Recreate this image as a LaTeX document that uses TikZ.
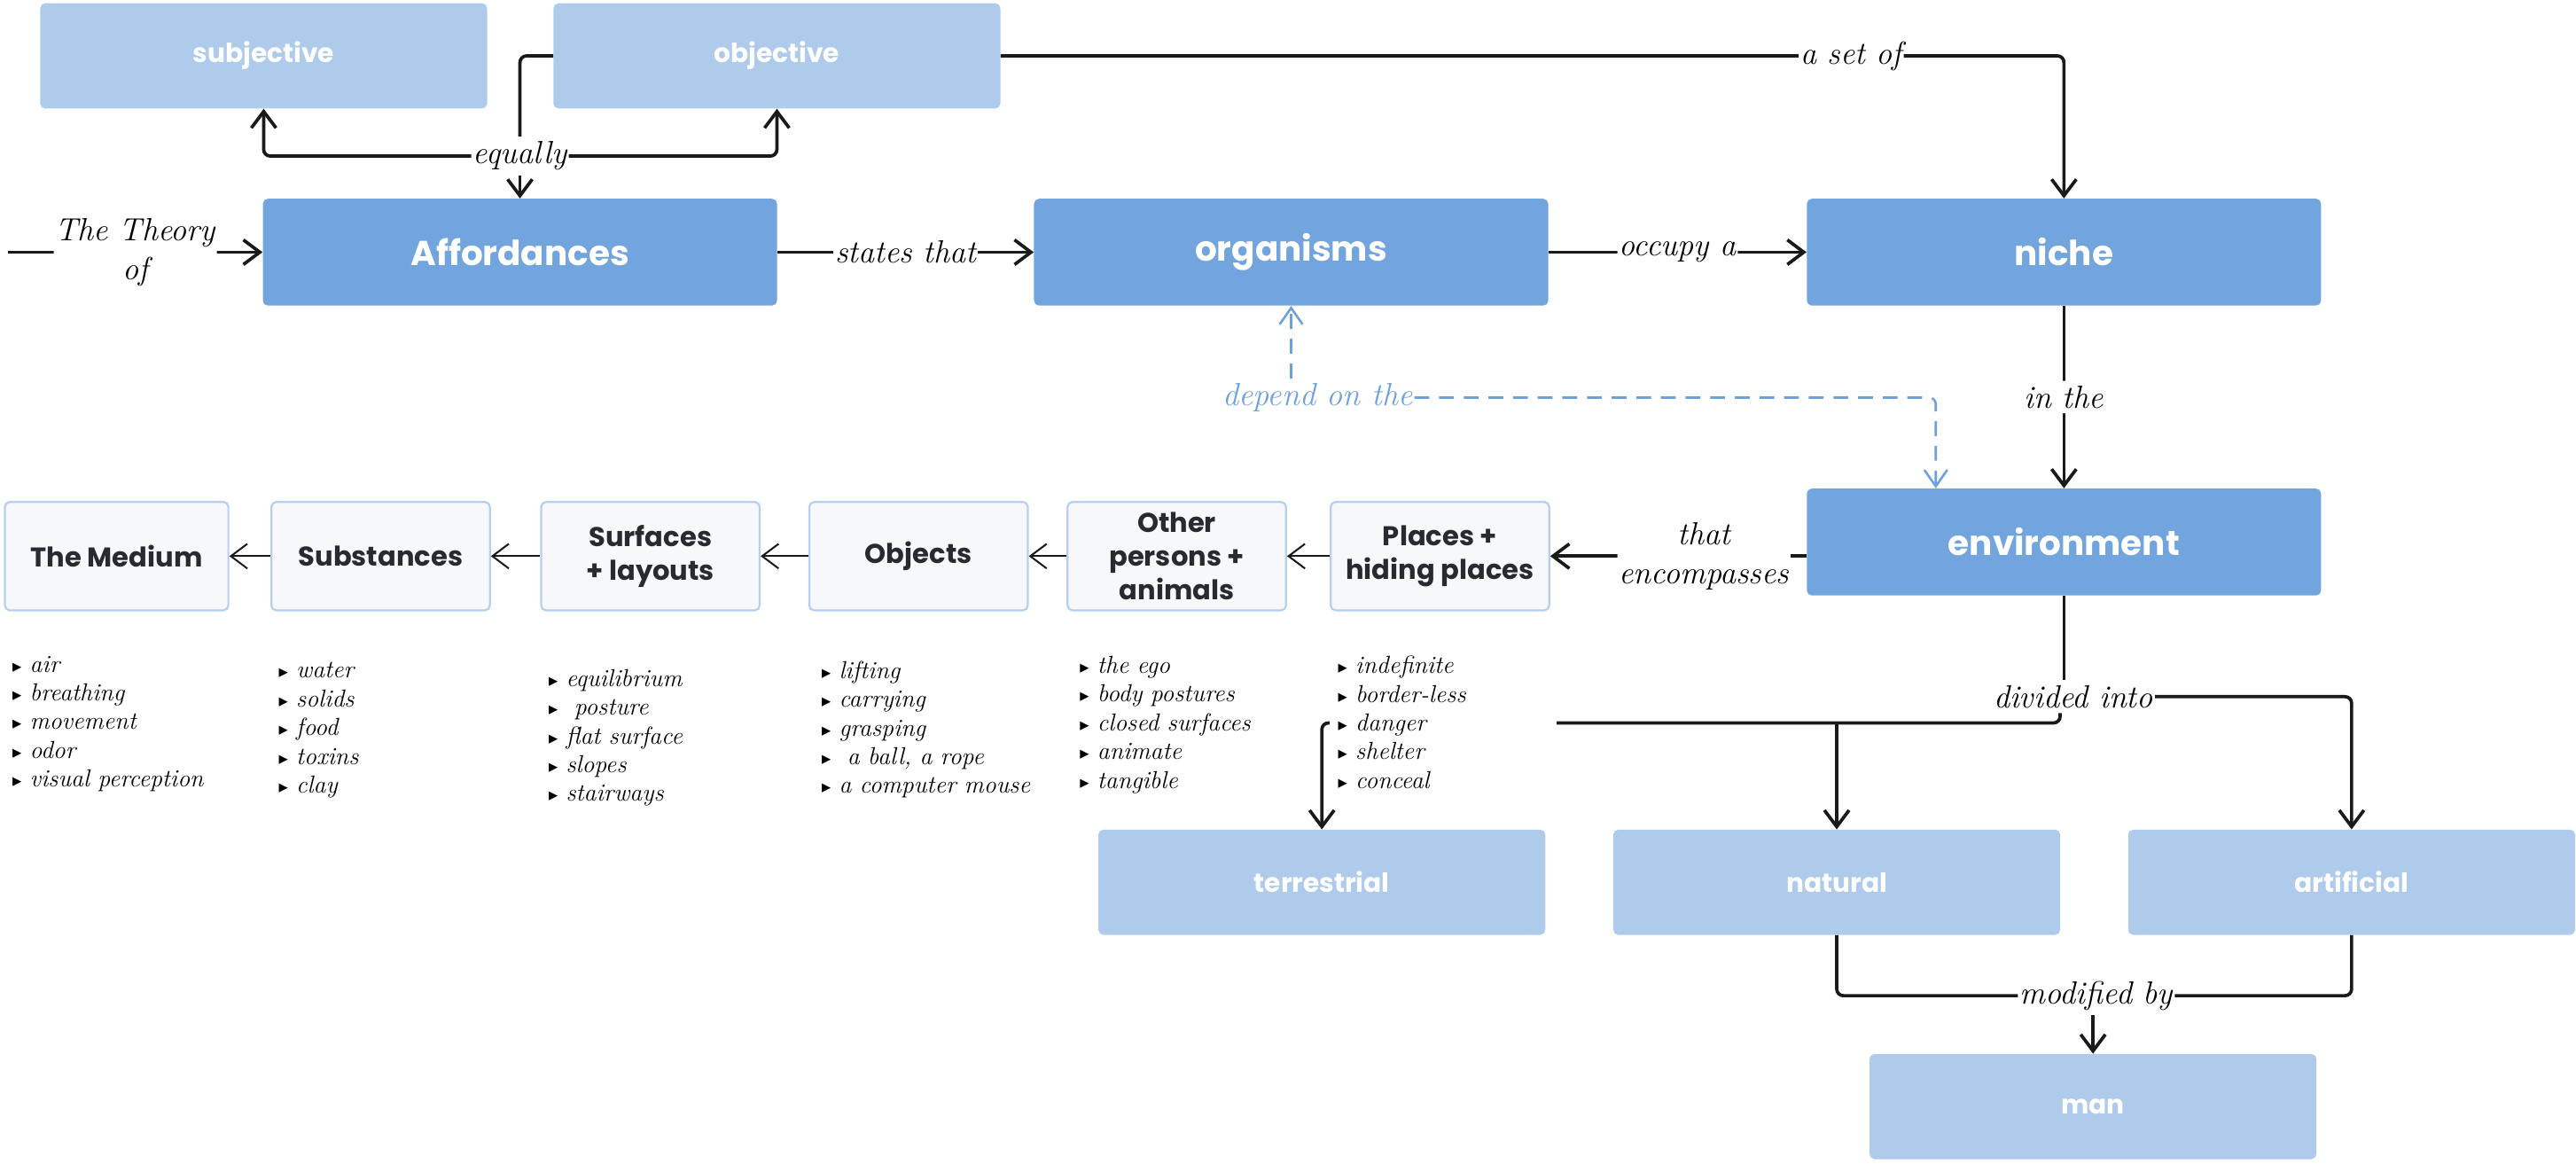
\documentclass[tikz,border=0pt]{standalone}
\usepackage{fontspec}
\setsansfont{Poppins}
\newfontfamily\symfont{DejaVu Sans}
\usepackage{tikz}
\usetikzlibrary{arrows.meta,positioning}
\definecolor{boxblue}{RGB}{114,165,221}
\definecolor{paleblue}{RGB}{175,203,236}
\definecolor{softgray}{RGB}{247,248,250}
\definecolor{edgeblue}{RGB}{182,207,238}
\definecolor{darktext}{RGB}{40,42,48}
\definecolor{ink}{RGB}{26,26,26}
\definecolor{dashblue}{RGB}{110,160,220}
\newcommand\itemmark{{\symfont\fontsize{11}{11}\selectfont ▸}\ }
\tikzset{
  mainbox/.style={
    rounded corners=3pt,
    fill=boxblue,
    text=white,
    align=center,
    minimum width=313pt,
    minimum height=65pt,
    font=\sffamily\bfseries\fontsize{21}{25}\selectfont
  },
  subbox/.style={mainbox, fill=paleblue, minimum width=272pt, minimum height=64pt,
    font=\sffamily\bfseries\fontsize{16}{20}\selectfont},
  stagebox/.style={
    rounded corners=3pt,
    fill=softgray,
    draw=edgeblue,
    line width=1.2pt,
    text=darktext,
    align=center,
    inner sep=2pt,
    minimum width=133pt,
    minimum height=66pt,
    font=\sffamily\bfseries\fontsize{16.5}{20.5}\selectfont
  },
  itemlist/.style={fill=white, text width=128pt, inner xsep=5pt, inner ysep=3pt,
    align=left, font=\itshape\fontsize{15}{17.5}\selectfont},
  linklabel/.style={fill=white, inner xsep=1pt, inner ysep=3pt, align=center,
    font=\itshape\fontsize{19.5}{24}\selectfont},
  link/.style={line width=2pt, draw=ink, rounded corners=4pt},
  arrow/.style={link, -{Straight Barb[length=10pt, width=15pt]}},
  thinarrow/.style={arrow, line width=1.1pt},
  dasharrow/.style={line width=1.4pt, draw=dashblue, dash pattern=on 9pt off 6pt,
    rounded corners=4pt, -{Straight Barb[length=10pt, width=14pt]}}
}
\begin{document}
\begin{tikzpicture}[x=1pt, y=-1pt]
  \useasboundingbox (0,0) rectangle (1568,708);
  \node[mainbox] (affordances) at (316.5,153.5) {Affordances};
  \node[mainbox, right=156pt of affordances] (organisms) {organisms};
  \node[mainbox, right=157pt of organisms] (niche) {niche};
  \node[mainbox, below=111pt of niche] (environment) {environment};
  \node[subbox] (subjective) at (160.5,34) {subjective};
  \node[subbox, right=40pt of subjective] (objective) {objective};
  \node[subbox] (natural) at (1118,537) {natural};
  \node[subbox, left=41pt of natural] (terrestrial) {terrestrial};
  \node[subbox, right=41pt of natural] (artificial) {artificial};
  \node[subbox] (man) at (1274,673.5) {man};

  \node[stagebox] (places) at (876.5,338.5) {Places +\\hiding places};
  \node[stagebox, left=26pt of places] (others) {Other\\persons +\\animals};
  \node[stagebox, left=23pt of others] (objects) {Objects};
  \node[stagebox, left=29pt of objects] (surfaces) {Surfaces\\+ layouts};
  \node[stagebox, left=30pt of surfaces] (substances) {Substances};
  \node[stagebox, minimum width=136pt, left=25pt of substances] (medium) {The Medium};

  \node[linklabel] (equally) at (316.5,95) {equally};
  \node[linklabel, text=dashblue] (depend) at (802,242) {depend on the};
  \node[linklabel] (divided) at (1262,424) {divided into};
  \node[linklabel] (modified) at (1276,606) {modified by};
  \coordinate (entry) at (5,153.5);
  \coordinate (fork) at (1254,440);

  \draw[link] (objective.west) -| (equally.north);
  \draw[arrow] (equally.south) -- (affordances.north);
  \draw[arrow] (equally.west) -| (subjective.south);
  \draw[arrow] (equally.east) -| (objective.south);
  \draw[arrow] (objective.east) -| node[linklabel, pos=0.4] {a set of} (niche.north);
  \draw[arrow] (entry) -- node[linklabel] {The Theory\\of} (affordances.west);
  \draw[arrow] (affordances) -- node[linklabel] {states that} (organisms);
  \draw[arrow] (organisms) -- node[linklabel] {occupy a} (niche);
  \draw[arrow] (niche) -- node[linklabel] {in the} (environment);
  \draw[dasharrow] (depend.north -| organisms.south) -- (organisms.south);
  \draw[dasharrow] (depend.east) -| ([xshift=-78pt]environment.north);
  \draw[arrow] (environment.west |- places.east) -- node[linklabel, pos=0.4] {that\\encompasses} (places.east);
  \draw[thinarrow] (places) -- (others);
  \draw[thinarrow] (others) -- (objects);
  \draw[thinarrow] (objects) -- (surfaces);
  \draw[thinarrow] (surfaces) -- (substances);
  \draw[thinarrow] (substances) -- (medium);
  \draw[link] (environment.south) -- (divided.north -| environment.south);
  \draw[arrow] (divided.east) -| (artificial.north);
  \draw[arrow] (divided.south -| fork) -- (fork) -| (terrestrial.north);
  \draw[arrow] (natural.north |- fork) -- (natural.north);
  \draw[link] (natural.south) |- (modified.west);
  \draw[link] (artificial.south) |- (modified.east);
  \draw[arrow] (modified.south -| man.north) -- (man.north);

  \node[itemlist, below right=24pt and 0pt of medium.south west] (mediumlist)
    {\itemmark air\\ \itemmark breathing\\ \itemmark movement\\ \itemmark odor\\ \itemmark visual perception};
  \node[itemlist, below right=28pt and 0pt of substances.south west] (substancelist)
    {\itemmark water\\ \itemmark solids\\ \itemmark food\\ \itemmark toxins\\ \itemmark clay};
  \node[itemlist, below right=32pt and 0pt of surfaces.south west] (surfacelist)
    {\itemmark equilibrium\\ \itemmark\ posture\\ \itemmark flat surface\\ \itemmark slopes\\ \itemmark stairways};
  \node[itemlist, below right=27pt and 3pt of objects.south west] (objectlist)
    {\itemmark lifting\\ \itemmark carrying\\ \itemmark grasping\\ \itemmark\ a ball, a rope\\ \itemmark a computer mouse};
  \node[itemlist, below right=24pt and 3pt of others.south west] (otherlist)
    {\itemmark the ego\\ \itemmark body postures\\ \itemmark closed surfaces\\ \itemmark animate\\ \itemmark tangible};
  \node[itemlist, below right=24pt and 0pt of places.south west] (placelist)
    {\itemmark indefinite\\ \itemmark border-less\\ \itemmark danger\\ \itemmark shelter\\ \itemmark conceal};
\end{tikzpicture}
\end{document}
